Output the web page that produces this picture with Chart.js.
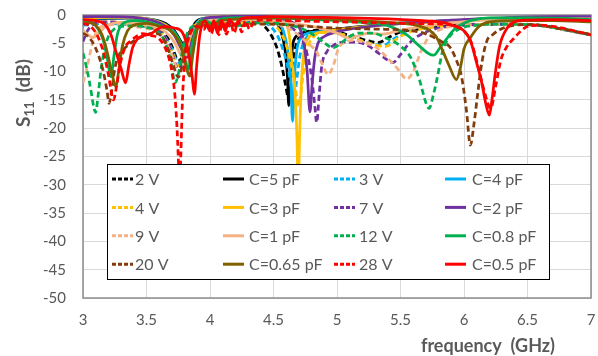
<!DOCTYPE html>
<html>
<head>
<meta charset="utf-8">
<script src="https://cdn.jsdelivr.net/npm/chart.js@4.4.1/dist/chart.umd.min.js"></script>
<style>
  html, body { margin: 0; padding: 0; background: #fff; }
</style>
</head>
<body>
<canvas id="s11" width="598" height="356"></canvas>
<script>
//* Data: [frequency GHz, S11 dB]
// measured (dashed), by bias voltage
const meas2V = [[3.0,-1.6],[3.1,-1.5],[3.2,-1.4],[3.3,-1.5],[3.4,-1.7],[3.5,-2.0],[3.58,-2.4],[3.65,-3.5],[3.7,-5.5],[3.75,-8.0],[3.78,-7.5],[3.82,-4.0],[3.87,-2.0],[3.93,-1.5],[4.0,-1.8],[4.1,-1.5],[4.2,-1.6],[4.3,-1.1],[4.37,-0.9],[4.42,-1.8],[4.48,-3.5],[4.53,-6.0],[4.57,-9.5],[4.6,-13],[4.615,-14.5],[4.64,-11],[4.67,-6.0],[4.72,-3.5],[4.8,-2.8],[4.87,-2.6],[5.0,-3.0],[5.1,-3.6],[5.2,-4.3],[5.27,-4.7],[5.32,-4.9],[5.42,-3.8],[5.5,-3.0],[5.6,-2.6],[5.75,-2.1],[5.9,-1.8],[6.1,-1.7],[6.3,-1.6],[6.5,-1.7],[6.65,-2.0],[6.8,-2.6],[7.0,-3.5]];
const meas3V = [[3.0,-1.8],[3.1,-1.6],[3.2,-1.5],[3.3,-1.6],[3.4,-1.8],[3.5,-2.1],[3.58,-2.6],[3.65,-4.0],[3.7,-6.0],[3.75,-8.5],[3.78,-8.0],[3.82,-4.2],[3.87,-2.0],[3.93,-1.6],[4.0,-1.9],[4.1,-1.6],[4.2,-1.7],[4.3,-1.3],[4.4,-1.2],[4.47,-1.9],[4.53,-3.6],[4.58,-6.5],[4.62,-10],[4.645,-13.5],[4.66,-15.5],[4.68,-12],[4.71,-7.0],[4.76,-4.0],[4.86,-3.0],[5.0,-3.2],[5.1,-3.8],[5.2,-4.6],[5.3,-5.2],[5.36,-5.4],[5.44,-4.3],[5.52,-3.3],[5.62,-2.6],[5.75,-2.1],[5.9,-1.8],[6.1,-1.7],[6.3,-1.6],[6.5,-1.7],[6.65,-2.0],[6.8,-2.7],[7.0,-3.5]];
const meas4V = [[3.0,-1.5],[3.1,-1.3],[3.2,-1.2],[3.3,-1.4],[3.4,-1.7],[3.5,-2.0],[3.58,-2.7],[3.65,-4.2],[3.7,-6.5],[3.755,-9.0],[3.785,-8.2],[3.82,-4.5],[3.87,-2.1],[3.93,-1.5],[4.0,-1.8],[4.1,-1.5],[4.2,-1.6],[4.3,-1.2],[4.42,-1.1],[4.5,-1.7],[4.56,-3.2],[4.61,-6.0],[4.65,-10],[4.68,-14],[4.70,-16],[4.725,-12],[4.76,-6.5],[4.81,-4.0],[4.9,-3.1],[5.0,-3.2],[5.1,-3.8],[5.2,-4.6],[5.3,-5.3],[5.38,-5.6],[5.46,-4.4],[5.54,-3.3],[5.64,-2.6],[5.78,-2.1],[5.95,-1.8],[6.15,-1.7],[6.35,-1.6],[6.5,-1.7],[6.65,-2.0],[6.8,-2.6],[7.0,-3.4]];
const meas7V = [[3.0,-4.7],[3.03,-3.0],[3.07,-1.8],[3.15,-1.2],[3.3,-1.3],[3.45,-1.8],[3.55,-2.3],[3.63,-3.5],[3.69,-6.0],[3.75,-9.5],[3.79,-8.0],[3.83,-4.0],[3.88,-2.0],[3.95,-1.6],[4.05,-1.9],[4.15,-1.5],[4.25,-1.6],[4.35,-1.2],[4.45,-1.0],[4.55,-1.3],[4.62,-2.0],[4.7,-3.5],[4.76,-6.5],[4.8,-11],[4.825,-16],[4.84,-19],[4.86,-14],[4.88,-9.0],[4.92,-6.5],[4.97,-5.4],[5.05,-4.8],[5.15,-4.8],[5.25,-5.5],[5.33,-6.8],[5.4,-8.0],[5.44,-8.4],[5.5,-7.0],[5.56,-5.2],[5.62,-4.0],[5.7,-3.0],[5.8,-2.3],[5.95,-1.9],[6.15,-1.7],[6.35,-1.6],[6.5,-1.7],[6.65,-2.0],[6.8,-2.6],[7.0,-3.5]];
const meas9V = [[3.0,-12],[3.025,-10],[3.05,-7.4],[3.08,-4.5],[3.11,-2.8],[3.18,-1.8],[3.3,-1.7],[3.45,-2.2],[3.55,-2.7],[3.63,-4.0],[3.69,-6.5],[3.76,-10],[3.8,-8.0],[3.84,-4.0],[3.89,-2.1],[3.95,-1.8],[4.05,-2.2],[4.15,-1.8],[4.25,-1.9],[4.35,-1.6],[4.45,-1.5],[4.55,-1.8],[4.63,-2.5],[4.7,-3.6],[4.77,-5.0],[4.84,-6.5],[4.88,-8.5],[4.93,-10.5],[4.97,-9.0],[5.01,-6.0],[5.06,-4.8],[5.13,-4.5],[5.22,-4.9],[5.3,-5.6],[5.38,-7.2],[5.47,-9.3],[5.55,-11.3],[5.6,-10],[5.66,-6.5],[5.72,-4.0],[5.8,-2.7],[5.95,-1.9],[6.15,-1.7],[6.35,-1.6],[6.5,-1.7],[6.65,-2.0],[6.8,-2.7],[7.0,-3.5]];
const meas12V = [[3.0,-6.7],[3.03,-9.5],[3.06,-13],[3.085,-16.3],[3.1,-17.2],[3.115,-15],[3.14,-10],[3.17,-6.0],[3.2,-3.8],[3.24,-2.6],[3.3,-2.0],[3.4,-1.9],[3.5,-2.2],[3.58,-2.8],[3.64,-4.5],[3.69,-8.0],[3.725,-12],[3.755,-10],[3.79,-5.5],[3.83,-2.8],[3.9,-1.8],[4.0,-2.2],[4.1,-1.8],[4.2,-1.9],[4.3,-1.5],[4.45,-1.4],[4.6,-1.7],[4.72,-2.4],[4.82,-3.6],[4.9,-4.9],[4.97,-5.8],[5.04,-4.8],[5.1,-3.8],[5.17,-3.2],[5.28,-3.2],[5.38,-4.0],[5.5,-5.5],[5.58,-7.5],[5.65,-11.5],[5.7,-15.5],[5.725,-16.5],[5.76,-14],[5.79,-11],[5.83,-6.5],[5.88,-4.0],[5.95,-2.6],[6.1,-1.8],[6.3,-1.6],[6.5,-1.7],[6.65,-2.0],[6.8,-2.6],[7.0,-3.5]];
const meas20V = [[3.0,-3.2],[3.04,-3.8],[3.08,-5.0],[3.12,-7.0],[3.16,-10],[3.19,-13.5],[3.205,-15.6],[3.225,-13.5],[3.25,-9.5],[3.29,-6.8],[3.34,-5.6],[3.4,-4.6],[3.47,-3.8],[3.55,-3.2],[3.62,-3.8],[3.67,-6.0],[3.72,-9.5],[3.75,-11],[3.78,-9.0],[3.82,-4.5],[3.87,-2.2],[3.95,-1.8],[4.05,-2.2],[4.15,-1.8],[4.25,-1.9],[4.35,-1.6],[4.5,-1.6],[4.7,-1.9],[4.9,-2.2],[5.1,-2.4],[5.3,-2.5],[5.5,-2.6],[5.65,-3.0],[5.75,-3.8],[5.83,-4.8],[5.89,-5.7],[5.94,-8.0],[5.98,-10.8],[6.02,-17],[6.05,-23],[6.08,-19],[6.11,-13.5],[6.14,-8.5],[6.18,-4.6],[6.23,-3.4],[6.28,-2.6],[6.4,-1.8],[6.55,-1.7],[6.65,-2.0],[6.8,-2.6],[7.0,-3.5]];
const meas28V = [[3.0,-1.5],[3.06,-2.0],[3.11,-3.5],[3.16,-6.5],[3.2,-10.5],[3.24,-15],[3.265,-12.5],[3.29,-9.0],[3.33,-5.8],[3.38,-4.5],[3.42,-3.8],[3.47,-3.3],[3.53,-3.6],[3.6,-4.2],[3.66,-6.5],[3.7,-10],[3.73,-16],[3.75,-25],[3.76,-32],[3.77,-25],[3.785,-14],[3.81,-6.5],[3.85,-3.0],[3.9,-2.0],[3.95,-2.6],[3.98,-1.5],[4.01,-3.3],[4.04,-1.4],[4.07,-3.5],[4.1,-1.3],[4.13,-3.4],[4.16,-1.2],[4.19,-3.2],[4.22,-1.1],[4.25,-3.0],[4.28,-1.0],[4.31,-2.5],[4.35,-1.0],[4.45,-0.9],[4.6,-1.0],[4.8,-1.1],[5.0,-1.2],[5.2,-1.3],[5.4,-1.4],[5.6,-1.5],[5.8,-1.6],[5.9,-1.8],[6.0,-2.8],[6.06,-5.0],[6.11,-9.0],[6.16,-13.5],[6.21,-16.5],[6.25,-12.5],[6.29,-8.0],[6.34,-5.5],[6.39,-4.2],[6.45,-2.8],[6.5,-2.0],[6.6,-1.8],[6.7,-2.0],[6.85,-2.7],[7.0,-3.5]];

// simulated (solid), by varactor capacitance
const simC5 = [[3.0,-0.8],[3.2,-0.6],[3.4,-0.5],[3.55,-0.8],[3.65,-1.5],[3.72,-2.8],[3.78,-5.0],[3.81,-6.0],[3.84,-4.0],[3.88,-1.5],[3.95,-0.6],[4.1,-0.4],[4.3,-0.3],[4.45,-0.6],[4.51,-1.0],[4.56,-3.0],[4.59,-6.0],[4.61,-11],[4.62,-16],[4.635,-10],[4.65,-5.5],[4.67,-4.0],[4.7,-3.4],[4.77,-3.0],[4.9,-2.8],[5.0,-2.5],[5.2,-2.0],[5.4,-1.6],[5.6,-1.3],[5.8,-1.1],[6.0,-0.9],[6.3,-0.6],[6.6,-0.4],[7.0,-0.4]];
const simC4 = [[3.0,-0.7],[3.2,-0.5],[3.4,-0.5],[3.55,-0.9],[3.65,-1.7],[3.72,-3.0],[3.78,-5.4],[3.815,-6.5],[3.845,-4.2],[3.89,-1.6],[3.95,-0.6],[4.1,-0.4],[4.3,-0.3],[4.45,-0.6],[4.54,-1.2],[4.58,-3.0],[4.61,-6.0],[4.635,-11],[4.65,-18.8],[4.665,-11],[4.685,-6.0],[4.71,-4.2],[4.76,-3.3],[4.85,-3.0],[4.95,-2.8],[5.05,-2.5],[5.25,-2.0],[5.45,-1.6],[5.65,-1.3],[5.85,-1.1],[6.05,-0.9],[6.3,-0.6],[6.6,-0.4],[7.0,-0.5]];
const simC3 = [[3.0,-0.5],[3.2,-0.4],[3.4,-0.4],[3.55,-0.9],[3.65,-1.8],[3.72,-3.3],[3.78,-5.8],[3.82,-7.0],[3.85,-4.5],[3.9,-1.6],[3.96,-0.6],[4.1,-0.3],[4.3,-0.3],[4.5,-0.6],[4.575,-0.9],[4.62,-3.0],[4.645,-8.0],[4.67,-14],[4.685,-22],[4.695,-32],[4.705,-22],[4.72,-12],[4.74,-6.5],[4.77,-4.2],[4.83,-3.3],[4.92,-2.9],[5.0,-2.6],[5.2,-2.1],[5.4,-1.7],[5.6,-1.4],[5.8,-1.2],[6.0,-0.9],[6.3,-0.6],[6.6,-0.4],[7.0,-0.5]];
const simC2 = [[3.0,-0.3],[3.2,-0.3],[3.4,-0.4],[3.55,-1.0],[3.65,-2.0],[3.72,-3.6],[3.78,-6.2],[3.825,-7.5],[3.855,-4.8],[3.9,-1.8],[3.96,-0.6],[4.1,-0.3],[4.3,-0.2],[4.5,-0.4],[4.6,-0.9],[4.67,-1.6],[4.71,-2.5],[4.74,-5.0],[4.765,-10],[4.787,-17.1],[4.805,-12],[4.825,-7.5],[4.85,-5.0],[4.9,-3.8],[4.98,-3.1],[5.1,-2.5],[5.3,-1.9],[5.5,-1.5],[5.7,-1.2],[5.9,-0.9],[6.1,-0.7],[6.4,-0.4],[6.7,-0.3],[7.0,-0.3]];
const simC1 = [[3.0,-2.7],[3.04,-3.5],[3.08,-4.0],[3.12,-3.3],[3.18,-2.0],[3.3,-1.3],[3.45,-1.6],[3.55,-2.0],[3.65,-3.0],[3.72,-4.8],[3.78,-7.5],[3.82,-8.5],[3.86,-5.5],[3.9,-2.5],[3.96,-1.2],[4.1,-0.9],[4.3,-0.8],[4.5,-1.0],[4.65,-1.5],[4.8,-2.0],[4.9,-2.5],[5.0,-3.2],[5.08,-4.0],[5.15,-3.8],[5.25,-3.2],[5.35,-3.4],[5.45,-3.0],[5.55,-2.5],[5.7,-2.0],[5.9,-1.4],[6.1,-1.0],[6.4,-0.7],[6.7,-0.6],[7.0,-0.7]];
const simC08 = [[3.0,-0.9],[3.07,-1.3],[3.12,-2.5],[3.16,-4.5],[3.19,-7.5],[3.22,-10.9],[3.245,-7.0],[3.27,-3.5],[3.31,-1.6],[3.4,-1.0],[3.5,-1.2],[3.6,-1.8],[3.7,-2.8],[3.77,-5.0],[3.81,-8.5],[3.83,-9.6],[3.855,-6.0],[3.89,-2.5],[3.95,-0.9],[4.03,-1.6],[4.08,-0.8],[4.2,-0.5],[4.35,-0.4],[4.55,-0.5],[4.8,-0.8],[5.0,-1.0],[5.2,-1.3],[5.35,-1.6],[5.45,-2.3],[5.55,-3.5],[5.65,-5.5],[5.72,-6.8],[5.76,-7.1],[5.81,-5.8],[5.86,-4.3],[5.92,-2.6],[5.97,-1.8],[6.05,-1.0],[6.2,-0.5],[6.5,-0.5],[6.8,-0.6],[7.0,-0.8]];
const simC065 = [[3.0,-1.4],[3.06,-1.4],[3.1,-1.8],[3.15,-3.5],[3.19,-6.5],[3.23,-10.5],[3.26,-12.7],[3.28,-10],[3.31,-5.5],[3.35,-2.8],[3.4,-1.8],[3.5,-1.5],[3.6,-2.0],[3.7,-3.0],[3.77,-5.5],[3.81,-9.0],[3.84,-10.8],[3.865,-7.0],[3.9,-2.5],[3.95,-1.2],[4.02,-2.0],[4.07,-1.2],[4.15,-0.8],[4.3,-0.6],[4.5,-0.5],[4.8,-0.6],[5.1,-0.9],[5.4,-1.3],[5.6,-1.7],[5.72,-2.6],[5.78,-3.8],[5.83,-6.2],[5.88,-8.8],[5.94,-11.4],[5.97,-9.5],[6.0,-6.0],[6.05,-4.0],[6.12,-2.0],[6.2,-1.2],[6.4,-1.0],[6.7,-1.0],[7.0,-1.2]];
const simC05 = [[3.0,-0.8],[3.1,-1.0],[3.17,-1.6],[3.22,-3.5],[3.26,-6.5],[3.3,-9.5],[3.336,-12],[3.36,-9.0],[3.39,-5.8],[3.43,-4.2],[3.48,-3.6],[3.53,-3.4],[3.58,-2.6],[3.64,-2.0],[3.72,-2.3],[3.78,-3.0],[3.83,-6.5],[3.86,-11],[3.877,-14],[3.895,-9.0],[3.92,-3.5],[3.96,-1.0],[4.0,-2.8],[4.03,-1.0],[4.06,-3.2],[4.09,-0.9],[4.12,-2.8],[4.15,-0.8],[4.2,-1.8],[4.25,-0.6],[4.35,-0.4],[4.5,-0.3],[4.8,-0.4],[5.1,-0.5],[5.4,-0.7],[5.6,-0.9],[5.75,-1.1],[5.85,-1.4],[5.93,-2.0],[6.0,-2.8],[6.05,-4.5],[6.1,-8.5],[6.14,-12],[6.17,-15.5],[6.2,-17.7],[6.22,-15],[6.245,-10.5],[6.28,-5.5],[6.34,-2.3],[6.4,-1.2],[6.5,-0.9],[6.7,-0.8],[7.0,-1.0]];

// legend order (row by row)
const seriesData = [meas2V, simC5, meas3V, simC4, meas4V, simC3, meas7V, simC2, meas9V, simC1, meas12V, simC08, meas20V, simC065, meas28V, simC05];
const seriesLabels = ['2 V', 'C=5 pF', '3 V', 'C=4 pF', '4 V', 'C=3 pF', '7 V', 'C=2 pF', '9 V', 'C=1 pF', '12 V', 'C=0.8 pF', '20 V', 'C=0.65 pF', '28 V', 'C=0.5 pF'];
const seriesColors = ['#000000', '#000000', '#00b0f0', '#00b0f0', '#ffc000', '#ffc000', '#7030a0', '#7030a0', '#f4b183', '#f4b183', '#00b050', '#00b050', '#843c0c', '#7f6000', '#ff0000', '#ff0000'];
const seriesDashed = [true, false, true, false, true, false, true, false, true, false, true, false, true, false, true, false];

const xTitle = 'frequency  (GHz)';
const textGray = '#595959';

// legend box + axis titles + frame
const decorPlugin = {
  id: 'decor',
  beforeDatasetsDraw(chart) {
    const { ctx, chartArea: a } = chart;
    ctx.save();
    ctx.strokeStyle = '#8c8c8c';
    ctx.lineWidth = 1.5;
    ctx.strokeRect(a.left, a.top, a.right - a.left, a.bottom - a.top);
    ctx.restore();
  },
  afterDatasetsDraw(chart) {
    const ctx = chart.ctx;
    ctx.save();
    // legend
    ctx.fillStyle = '#fff';
    ctx.fillRect(107, 164, 442, 115);
    ctx.strokeStyle = '#000';
    ctx.lineWidth = 1;
    ctx.strokeRect(107.5, 164.5, 442, 115);
    const colX = [112, 223, 334, 445];
    const textX = [135, 249, 359, 472];
    ctx.font = '16px Lato';
    ctx.textBaseline = 'middle';
    chart.data.datasets.forEach((ds, i) => {
      const col = i % 4, row = Math.floor(i / 4);
      const y = 179 + row * 28.4;
      ctx.strokeStyle = ds.borderColor;
      ctx.lineWidth = 3;
      ctx.setLineDash(seriesDashed[i] ? [4, 2] : []);
      ctx.beginPath();
      ctx.moveTo(colX[col], y);
      ctx.lineTo(colX[col] + 21, y);
      ctx.stroke();
      ctx.setLineDash([]);
      ctx.fillStyle = textGray;
      ctx.fillText(ds.label, textX[col], y + 1);
    });
    ctx.restore();
  },
  afterDraw(chart) {
    const ctx = chart.ctx;
    ctx.save();
    ctx.fillStyle = textGray;
    // x title
    ctx.font = 'bold 18px Lato';
    ctx.textAlign = 'center';
    ctx.textBaseline = 'middle';
    ctx.fillText(xTitle, 488, 346);
    // y title, S with subscript 11
    ctx.translate(23, 93);
    ctx.rotate(-Math.PI / 2);
    ctx.textAlign = 'left';
    ctx.textBaseline = 'alphabetic';
    const big = 'bold 19px Lato', small = 'bold 13px Lato';
    ctx.font = big; const wS = ctx.measureText('S').width;
    ctx.font = small; const w11 = ctx.measureText('11').width;
    ctx.font = big; const wDb = ctx.measureText('  (dB)').width;
    let x = -(wS + w11 + wDb) / 2;
    ctx.fillText('S', x, 7); x += wS;
    ctx.font = small; ctx.fillText('11', x, 11); x += w11;
    ctx.font = big; ctx.fillText('  (dB)', x, 7);
    ctx.restore();
  }
};

new Chart(document.getElementById('s11'), {
  type: 'line',
  data: {
    datasets: seriesData.map((d, i) => ({
      label: seriesLabels[i],
      data: d.map(p => ({ x: p[0], y: p[1] })),
      borderColor: seriesColors[i],
      borderWidth: 2.75,
      borderDash: seriesDashed[i] ? [6, 3.5] : [],
      pointRadius: 0,
      fill: false,
      cubicInterpolationMode: 'monotone',
      order: seriesData.length - i
    }))
  },
  options: {
    responsive: false,
    animation: false,
    layout: { padding: { left: 0, right: 7, top: 15, bottom: 0 } },
    plugins: { legend: { display: false }, tooltip: { enabled: false } },
    scales: {
      x: {
        type: 'linear', min: 3, max: 7,
        ticks: { stepSize: 0.5, color: textGray, font: { family: 'Lato', size: 15 }, padding: 13, maxRotation: 0,
          callback: v => String(v) },
        grid: { color: '#d9d9d9', drawTicks: false },
        border: { display: false },
        afterFit: s => { s.height = 58; s.paddingLeft = 0; s.paddingRight = 0; }
      },
      y: {
        min: -50, max: 0,
        ticks: { stepSize: 5, color: textGray, font: { family: 'Lato', size: 15 }, padding: 17 },
        grid: { color: '#d9d9d9', drawTicks: false },
        border: { display: false },
        afterFit: s => { s.width = 83; s.paddingTop = 0; s.paddingBottom = 0; }
      }
    }
  },
  plugins: [decorPlugin]
});
</script>
</body>
</html>
